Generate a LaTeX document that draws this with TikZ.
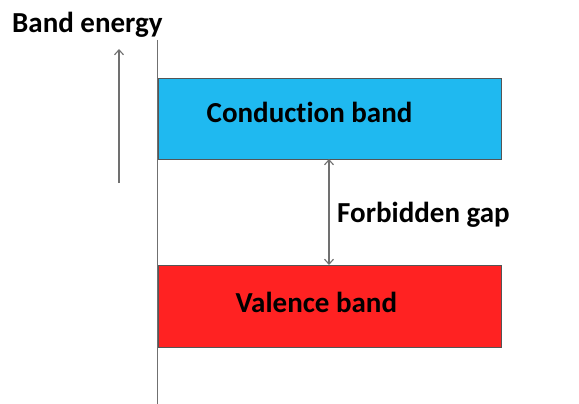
\documentclass[tikz,border=0pt]{standalone}
\usepackage{fontspec}
\setmainfont{Carlito}[RawFeature=-liga]
\usetikzlibrary{arrows.meta}
\definecolor{cbblue}{HTML}{1FB9F0}
\definecolor{vbred}{HTML}{FF2222}
\definecolor{edgegray}{HTML}{555555}
\definecolor{linegray}{HTML}{707070}
\begin{document}
\begin{tikzpicture}[x=1pt,y=-1pt,
  band/.style={draw=edgegray,line width=1pt,minimum width=343pt,minimum height=81pt,anchor=north west,inner sep=0},
  lbl/.style={font=\fontsize{29}{34}\selectfont\bfseries,anchor=base west,inner sep=0,text=black},
  axisline/.style={draw=linegray,line width=1.3pt},
  arr/.style={draw=linegray,line width=1.3pt,-{Straight Barb[length=5pt,width=9pt,line width=1.1pt]}},
  darr/.style={draw=linegray,line width=1.3pt,{Straight Barb[length=5pt,width=9pt,line width=1.1pt]}-{Straight Barb[length=5pt,width=9pt,line width=1.1pt]}}]
\useasboundingbox (0,0) rectangle (579,404);
% bands
\node[band,fill=cbblue] (cb) at (157.5,78) {};
\node[band,fill=vbred,minimum height=82pt] (vb) at (157.5,265) {};
% axis line
\coordinate (axtop) at (157.5,40);
\coordinate (axbot) at (157.5,404);
\draw[axisline] (axtop) -- (axbot);
% energy arrow
\coordinate (ea0) at (119,183);
\coordinate (ea1) at (119,49);
\draw[arr] (ea0) -- (ea1);
% gap arrow
\coordinate (gtop) at (329,159);
\coordinate (gbot) at (329,265);
\draw[darr] (gtop) -- (gbot);
% labels
\node[lbl] (be) at (12,33) {Band energy};
\node[lbl] (cbl) at (206.5,122) {Conduction band};
\node[lbl] (vbl) at (235.5,312) {Valence band};
\node[lbl] (fg) at (337,222) {Forbidden gap};
\end{tikzpicture}
\end{document}
